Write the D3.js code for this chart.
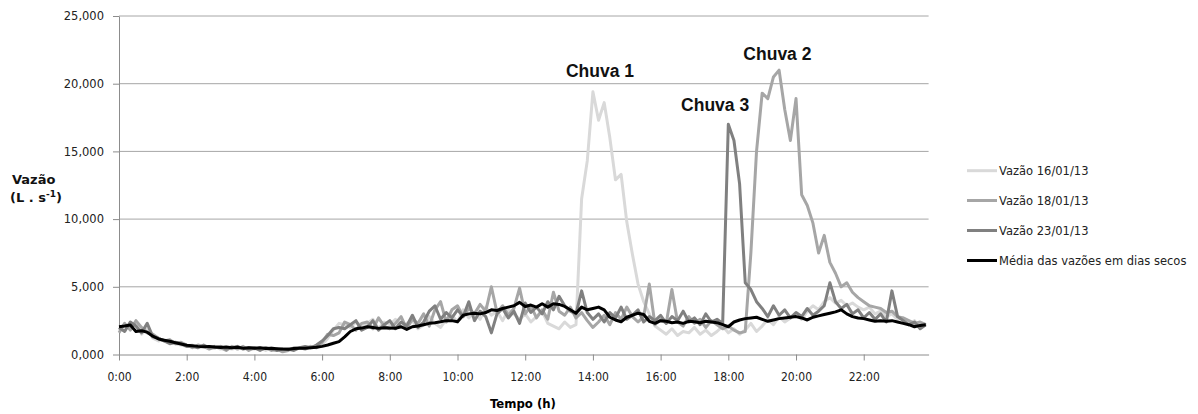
<!DOCTYPE html>
<html>
<head>
<meta charset="utf-8">
<script src="https://cdn.jsdelivr.net/npm/d3@7"></script>
<style>
  body { margin: 0; background: #fff; }
  svg { display: block; }
  .grid line { stroke: #a6a6a6; }
  .tick text { fill: #222; }
</style>
</head>
<body>
<svg width="1198" height="414"></svg>
<script>
// values every 10 min, from 0:00 to 23:50
var vazao1601 = [
  1.8,2.2,1.9,2.4,1.5,1.9,1.2,1.0,1.1,0.9,0.8,0.7,
  0.6,0.7,0.5,0.6,0.5,0.6,0.4,0.5,0.4,0.5,0.5,0.4,0.4,0.5,0.3,0.5,0.4,0.3,0.4,0.4,0.5,0.4,0.6,0.5,
  0.7,1.2,1.8,2.3,2.2,2.0,2.4,2.1,2.3,2.6,1.9,2.4,
  2.2,2.6,2.0,2.3,2.5,1.9,2.2,2.8,2.3,2.0,2.6,2.9,
  2.4,3.3,2.7,3.1,2.6,3.5,2.9,3.2,2.5,3.3,3.0,2.6,
  3.0,2.4,2.8,3.2,2.3,2.1,1.9,2.4,2.0,2.2,11.5,14.3,
  19.4,17.3,18.6,16.0,12.9,13.3,9.8,7.4,5.2,3.9,3.0,2.1,
  1.8,1.5,1.9,1.4,1.7,1.6,2.0,1.5,1.8,1.4,1.7,2.1,
  1.6,1.9,1.5,1.8,2.3,1.7,2.1,2.6,2.2,2.8,2.4,2.7,
  3.0,2.6,3.2,3.6,3.3,3.9,4.2,3.8,4.0,3.6,3.8,3.5,
  3.3,3.5,3.0,3.2,2.8,3.0,2.6,2.7,2.2,2.5,2.0,2.3
];
var vazao1801 = [
  1.6,2.3,1.8,2.5,2.0,1.6,1.5,1.2,1.0,1.1,0.8,0.9,
  0.7,0.5,0.7,0.6,0.4,0.6,0.5,0.3,0.6,0.4,0.6,0.3,0.5,0.4,0.5,0.3,0.4,0.2,0.3,0.5,0.5,0.4,0.6,0.5,
  0.9,1.5,1.4,1.6,2.4,2.2,1.8,2.3,2.4,1.9,2.7,2.1,
  1.9,2.3,2.8,1.9,2.6,2.3,3.0,2.1,3.3,3.9,2.4,3.3,
  3.6,2.8,3.4,3.0,3.7,3.2,5.0,3.1,3.6,2.9,3.4,4.9,
  3.0,3.6,2.7,3.3,2.6,4.6,3.2,2.9,3.5,2.7,3.1,2.5,
  2.0,2.4,2.9,2.2,3.1,2.6,3.5,2.8,2.4,2.8,5.2,2.2,
  2.6,2.3,4.8,2.4,2.1,2.8,2.3,2.6,2.0,2.5,2.2,1.9,
  2.1,1.8,1.6,1.7,7.5,15.0,19.3,18.9,20.5,21.0,18.1,15.8,
  18.9,11.8,11.0,9.7,7.5,8.8,6.8,6.0,5.0,5.3,4.6,4.2,
  3.9,3.6,3.5,3.4,3.1,3.2,2.8,2.7,2.5,2.3,2.4,2.2
];
var vazao2301 = [
  2.0,1.7,2.4,2.1,1.6,2.3,1.3,1.2,1.0,0.8,0.9,0.8,
  0.6,0.6,0.5,0.7,0.5,0.5,0.6,0.4,0.5,0.6,0.4,0.5,0.5,0.3,0.5,0.4,0.3,0.4,0.4,0.3,0.5,0.6,0.5,0.7,
  1.0,1.4,1.9,2.0,1.9,2.2,2.5,1.8,2.0,2.5,1.8,2.2,
  2.5,1.9,2.4,2.1,2.9,2.0,2.4,3.2,3.6,2.6,3.1,2.7,
  3.3,2.8,3.9,2.5,3.2,2.8,1.6,3.0,3.4,2.7,3.2,2.3,
  3.8,3.1,3.5,3.0,3.9,3.3,4.3,3.6,3.2,3.0,4.7,3.1,
  2.6,3.0,2.4,3.1,2.7,3.5,2.6,2.9,3.3,2.4,2.8,2.5,
  2.9,2.3,2.8,2.5,3.2,2.4,2.7,2.2,3.0,2.4,2.6,2.3,
  17.0,15.8,12.6,5.3,4.8,3.9,3.4,2.8,3.6,2.9,3.3,2.7,
  3.1,2.8,3.4,2.9,3.2,3.6,5.3,3.9,3.4,3.7,3.0,3.3,
  2.7,3.1,2.6,3.0,2.4,4.7,2.8,2.5,2.2,2.4,1.9,2.2
];
var mediaSecos = [
  2.05,2.1,2.18,1.7,1.75,1.65,1.35,1.15,1.05,0.98,0.87,0.78,
  0.68,0.65,0.6,0.58,0.6,0.55,0.52,0.56,0.5,0.53,0.47,0.5,0.46,0.5,0.44,0.46,0.43,0.4,0.38,0.44,0.46,0.46,0.5,0.53,
  0.6,0.7,0.83,0.95,1.3,1.7,1.9,1.95,2.05,2.0,1.93,1.98,
  1.95,1.93,2.05,1.85,2.05,2.1,2.2,2.3,2.35,2.42,2.5,2.5,
  2.42,2.9,3.0,3.05,3.0,3.1,3.3,3.25,3.4,3.5,3.6,3.85,
  3.55,3.65,3.5,3.75,3.5,3.75,3.7,3.55,3.3,3.05,3.5,3.3,
  3.4,3.5,3.3,2.75,2.55,2.42,2.75,2.9,3.05,2.95,2.45,2.3,
  2.5,2.45,2.35,2.4,2.3,2.45,2.42,2.35,2.45,2.4,2.35,2.2,
  2.05,2.4,2.55,2.65,2.7,2.75,2.6,2.45,2.55,2.65,2.7,2.75,
  2.8,2.7,2.55,2.75,2.85,2.95,3.05,3.15,3.3,3.0,2.8,2.7,
  2.65,2.55,2.45,2.5,2.45,2.5,2.4,2.3,2.2,2.05,2.15,2.2
];
var seriesNames = ["Vazão 16/01/13", "Vazão 18/01/13", "Vazão 23/01/13", "Média das vazões em dias secos"];
var seriesColors = ["#d9d9d9", "#a6a6a6", "#808080", "#000000"];
var yTicks = [0, 5, 10, 15, 20, 25];
var xTicksHours = [0, 2, 4, 6, 8, 10, 12, 14, 16, 18, 20, 22];
var rainLabels = [
  { text: "Chuva 1", hour: 14.21, value: 20.5 },
  { text: "Chuva 3", hour: 17.61, value: 17.98 },
  { text: "Chuva 2", hour: 19.45, value: 21.75 }
];

var svg = d3.select("svg");
var plotLeft = 119, plotRight = 928.6, plotTop = 16, plotBottom = 354.5;

var x = d3.scaleLinear().domain([0, 1435]).range([plotLeft, plotRight]);
var y = d3.scaleLinear().domain([0, 25]).range([plotBottom, plotTop]);

var fmt = function (v) { return d3.format(".3f")(v).replace(".", ","); };

// horizontal grid lines
svg.append("g")
  .attr("class", "grid")
  .selectAll("line")
  .data(yTicks.slice(1))
  .enter()
  .append("line")
  .attr("x1", plotLeft)
  .attr("x2", plotRight)
  .attr("y1", function (d) { return y(d); })
  .attr("y2", function (d) { return y(d); });

// y axis
var yAxis = svg.append("g")
  .attr("transform", "translate(" + plotLeft + ",0)")
  .call(d3.axisLeft(y).tickValues(yTicks).tickFormat(fmt).tickSize(6).tickPadding(9).tickSizeOuter(0));
yAxis.selectAll("text").style("font-family", "DejaVu Sans").style("font-size", "11.5px");
yAxis.selectAll("line, path").attr("stroke", "#8c8c8c");

// x axis
var xAxis = svg.append("g")
  .attr("transform", "translate(0," + plotBottom + ")")
  .call(d3.axisBottom(x)
    .tickValues(xTicksHours.map(function (h) { return h * 60; }))
    .tickFormat(function (d) { return (d / 60) + ":00"; })
    .tickSize(6).tickPadding(12).tickSizeOuter(0));
xAxis.selectAll("text").style("font-family", "DejaVu Sans Condensed").style("font-size", "12px");
xAxis.selectAll("line, path").attr("stroke", "#8c8c8c");

// series lines
var line = d3.line()
  .x(function (d, i) { return x(i * 10); })
  .y(function (d) { return y(d); });

[vazao1601, vazao1801, vazao2301, mediaSecos].forEach(function (s, i) {
  svg.append("path")
    .datum(s)
    .attr("fill", "none")
    .attr("stroke", seriesColors[i])
    .attr("stroke-width", 3)
    .attr("stroke-linejoin", "round")
    .attr("d", line);
});

// rain annotations
svg.selectAll(".rain")
  .data(rainLabels)
  .enter()
  .append("text")
  .attr("class", "rain")
  .attr("x", function (d) { return x(d.hour * 60); })
  .attr("y", function (d) { return y(d.value); })
  .attr("text-anchor", "middle")
  .style("font-family", "Liberation Sans")
  .style("font-weight", "bold")
  .style("font-size", "17.5px")
  .style("fill", "#111")
  .text(function (d) { return d.text; });

// axis titles
svg.append("text")
  .attr("x", 523).attr("y", 408)
  .attr("text-anchor", "middle")
  .style("font-family", "DejaVu Sans Condensed")
  .style("font-weight", "bold")
  .style("font-size", "13px")
  .text("Tempo (h)");

var yt = svg.append("text")
  .style("font-family", "DejaVu Sans")
  .style("font-weight", "bold")
  .style("font-size", "13px")
  .style("fill", "#111");
yt.append("tspan").attr("x", 12).attr("y", 184).text("Vazão");
var yt2 = yt.append("tspan").attr("x", 10).attr("y", 202);
yt2.append("tspan").text("(L . s");
yt2.append("tspan").attr("dy", -5).style("font-size", "9px").text("-1");
yt2.append("tspan").attr("dy", 5).text(")");

// legend
var legend = svg.append("g")
  .selectAll("g")
  .data(seriesNames)
  .enter()
  .append("g")
  .attr("transform", function (d, i) { return "translate(967," + [170.7, 200.5, 230.5, 260.5][i] + ")"; });
legend.append("line")
  .attr("x1", 0).attr("x2", 30)
  .attr("stroke", function (d, i) { return seriesColors[i]; })
  .attr("stroke-width", 3);
legend.append("text")
  .attr("x", 32).attr("dy", "0.35em")
  .style("font-family", "DejaVu Sans")
  .style("font-size", "11.5px")
  .style("fill", "#222")
  .text(function (d) { return d; });
</script>
</body>
</html>
